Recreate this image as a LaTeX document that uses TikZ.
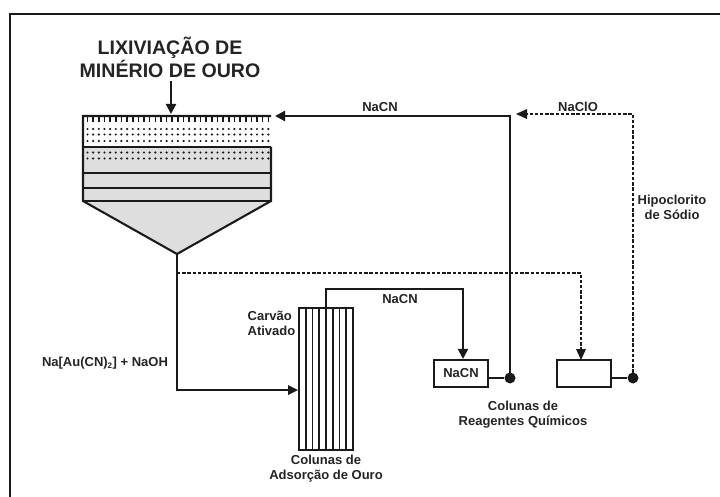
\documentclass[tikz,border=0pt]{standalone}
\usepackage{fontspec}
\setmainfont{Liberation Sans}
\usetikzlibrary{arrows.meta}
\definecolor{ink}{HTML}{1A1A1A}
\definecolor{txt}{HTML}{242424}
\definecolor{tankfill}{HTML}{DEDEDE}
\tikzset{
  pipe/.style={draw=ink,line width=2.1pt},
  flow/.style={pipe,-{Triangle[length=10pt,width=10pt]}},
  dflow/.style={draw=ink,line width=2.1pt,dash pattern=on 3.4pt off 1.8pt},
  tankline/.style={draw=ink,line width=2.1pt},
  lbl/.style={font=\bfseries\fontsize{13}{15}\selectfont,text=txt,align=center,inner sep=0pt},
  title/.style={font=\bfseries\fontsize{19.6}{21}\selectfont,text=txt,align=center,inner sep=0pt},
  rbox/.style={draw=ink,line width=2.1pt,fill=white,minimum width=54pt,minimum height=27pt,inner sep=0pt,font=\bfseries\fontsize{13}{13}\selectfont,text=txt},
  jdot/.style={circle,fill=ink,minimum size=11pt,inner sep=0pt},
}
\begin{document}
\begin{tikzpicture}[x=1pt,y=-1pt]
\useasboundingbox (0,0) rectangle (720,497);
\fill[white] (0,0) rectangle (720,497);
\draw[ink,line width=2.2pt] (720,14) -- (10,14) -- (10,497);
% tank
\coordinate (apex) at (177,254);
\fill[tankfill] (83,147) rectangle (271,201);
\fill[tankfill] (83,201) -- (271,201) -- (177,254) -- cycle;
\draw[tankline] (271,116) -- (83,116) -- (83,201) -- (177,254) -- (271,201) -- (271,147);
\foreach \y in {147,173,188,201} \draw[tankline] (83,\y) -- (271,\y);
\foreach \i in {0,...,32} {
  \draw[ink,line width=1.6pt] ({87.5+\i*5.65},116) -- ({87.5+\i*5.65},122);
}
\foreach \y in {129,134.5,141,152.5,158.5} {
  \foreach \i in {0,...,32} {
    \fill[ink] ({87.5+\i*5.65},\y) circle (1.2pt);
  }
}
% column
\foreach \x in {299,305.75,312.5,319.25,326,332.75,339.5,346.25,353} \draw[ink,line width=1.7pt] (\x,308) -- (\x,450);
\draw[ink,line width=1.9pt] (299,308) rectangle (353,450);
\coordinate (coltop) at (326,308);
\coordinate (colin) at (298,390);
% boxes
\node[rbox] (b1) at (461,373.5) {NaCN};
\node[rbox] (b2) at (584,373.5) {};
\node[jdot] (d1) at (510,378) {};
\node[jdot] (d2) at (633,378) {};
\draw[pipe] (b1.east |- d1) -- (d1);
\draw[pipe] (b2.east |- d2) -- (d2);
% connectors
\coordinate (inlet) at (171,81);
\coordinate (inletend) at (171,114);
\draw[flow] (inlet) -- (inletend);
\coordinate (nacnend) at (275,116);
\draw[flow] (d1.center) -- (510,116) -- (nacnend);
\draw[dflow] (d2.center) -- (633,114) -- (527,114);
\draw[draw=none,fill=ink] (516,114) -- (527,109) -- (527,119) -- cycle;
\draw[pipe] (apex) -- (177,390) -- (288,390);
\draw[draw=none,fill=ink] (colin) -- (288,385) -- (288,395) -- cycle;
\draw[flow] (coltop) -- (326,289) -- (463,289) -- (b1.north -| 463,0);
\draw[dflow] (177,273) -- (581,273) -- (581,350);
\draw[draw=none,fill=ink] (581,360) -- (576,349) -- (586,349) -- cycle;
% texts
\node[title] (t0) at (170,57.5) {LIXIVIAÇÃO DE\\MINÉRIO DE OURO};
\node[lbl] (t1) at (380,107) {NaCN};
\node[lbl] (t2) at (578,107) {NaClO};
\node[lbl] (t3) at (672,207.5) {Hipoclorito\\de Sódio};
\node[lbl] (t4) at (400,299) {NaCN};
\node[lbl,align=left] (t5) at (271.5,323.5) {Carvão\\Ativado};
\node[lbl] (t6) at (105,363.5) {Na[Au(CN)\textsubscript{\fontsize{8}{8}\selectfont 2}] + NaOH};
\node[lbl] (t7) at (326,468.5) {Colunas de\\Adsorção de Ouro};
\node[lbl] (t8) at (523,415) {Colunas de\\Reagentes Químicos};
\end{tikzpicture}
\end{document}
